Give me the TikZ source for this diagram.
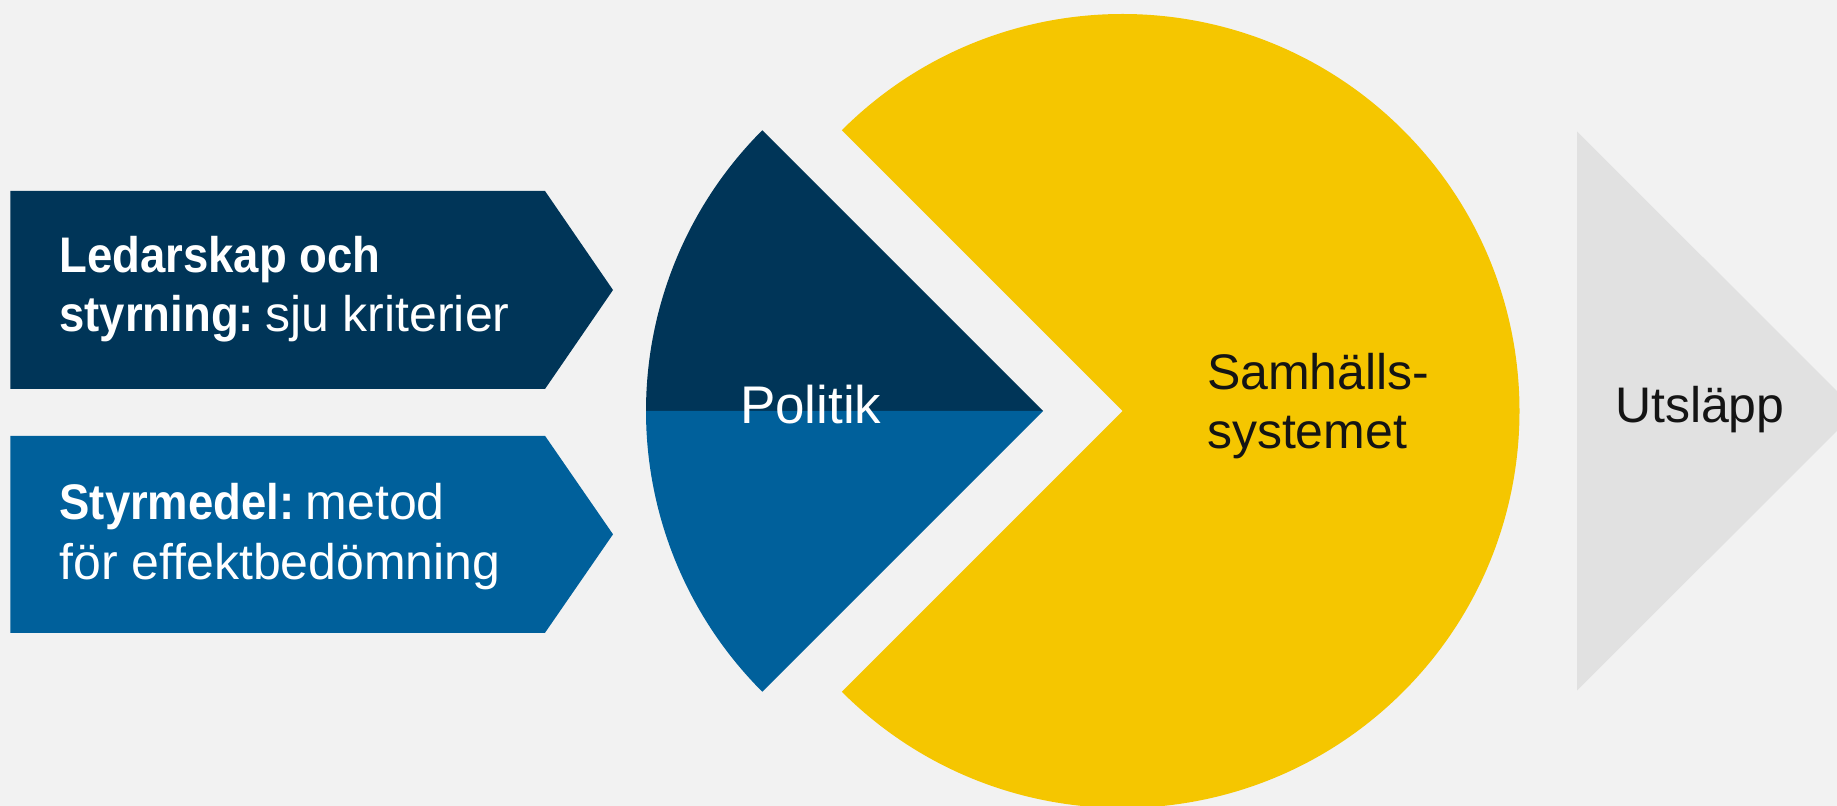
\documentclass[tikz,border=0pt]{standalone}
\usepackage{fontspec}
\setmainfont{Liberation Sans}[BoldFeatures={FakeStretch=0.91}]
\definecolor{bg}{HTML}{F2F2F2}
\definecolor{navy}{HTML}{003558}
\definecolor{midblue}{HTML}{00609B}
\definecolor{sunyellow}{HTML}{F5C600}
\definecolor{lightgrey}{HTML}{E1E1E1}
\definecolor{inktext}{HTML}{141414}
\newcommand{\tightsp}{\hskip 11pt\relax}
\tikzset{
  lbl/.style={inner sep=0pt, outer sep=0pt, align=left, anchor=base west,
    font=\fontsize{50}{59.5}\selectfont},
  whitelbl/.style={lbl, text=white},
  darklbl/.style={lbl, text=inktext},
}
\begin{document}
\begin{tikzpicture}[x=1pt,y=1pt]
  \fill[bg] (0,0) rectangle (1837,806);
  \useasboundingbox (0,0) rectangle (1837,806);
  % left arrow boxes
  \fill[navy] (10.3,615) -- (545,615) -- (613,516) -- (545,417) -- (10.3,417) -- cycle;
  \fill[midblue] (10.3,370.2) -- (545,370.2) -- (613,271.7) -- (545,173.2) -- (10.3,173.2) -- cycle;
  % Politik sector
  \coordinate (pc) at (1043,395);
  \fill[navy] (pc) -- ++(135:397) arc[start angle=135, end angle=180, radius=397] -- cycle;
  \fill[midblue] (pc) -- ++(180:397) arc[start angle=180, end angle=225, radius=397] -- cycle;
  % yellow pac-man
  \coordinate (yc) at (1122.5,395);
  \fill[sunyellow] (yc) -- ++(135:397) arc[start angle=135, end angle=-135, radius=397] -- cycle;
  % grey triangle
  \fill[lightgrey] (1577,674.5) -- (1857,395) -- (1577,115.5) -- cycle;
  % texts (base anchor = baseline of last line)
  \node[whitelbl] (lead) at (59.5,474) {\textbf{Ledarskap och}\\\textbf{styrning:}\tightsp sju kriterier};
  \node[whitelbl] (styr) at (59.5,226.8) {\textbf{Styrmedel:}\tightsp metod\\för effektbedömning};
  \node[whitelbl, font=\fontsize{53}{60}\selectfont] (pol) at (740,382) {Politik};
  \node[darklbl] (sam) at (1207,357.2) {Samhälls-\\systemet};
  \node[darklbl] (uts) at (1615,383) {Utsläpp};
\end{tikzpicture}
\end{document}
